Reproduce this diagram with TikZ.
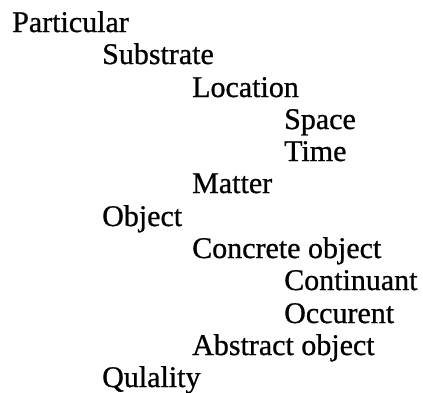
\documentclass[tikz,border=0pt]{standalone}
\usepackage{fontspec}
\setmainfont{Liberation Serif}
\newfontfamily\entryfont[FakeBold=0.8]{Liberation Serif}
\usepackage{tikz}
\usetikzlibrary{positioning}

\begin{document}
\begin{tikzpicture}[
    x=1pt, y=1pt,
    entry/.style={
        anchor=base west,
        inner sep=0pt,
        font=\entryfont\fontsize{30}{32}\selectfont
    }
]
    \useasboundingbox (0,0) rectangle (423,-392);

    \node[entry] (particular) at (12,-32) {Particular};
    \node[entry] (substrate) at (102,-64) {Substrate};
    \node[entry] (location) at (192,-97) {Location};
    \node[entry] (space) at (284,-129) {Space};
    \node[entry] (time) at (284,-161) {Time};
    \node[entry] (matter) at (192,-193) {Matter};
    \node[entry] (object) at (102,-226) {Object};
    \node[entry] (concrete) at (192,-258) {Concrete object};
    \node[entry] (continuant) at (284,-290) {Continuant};
    \node[entry] (occurent) at (284,-323) {Occurent};
    \node[entry] (abstract) at (192,-355) {Abstract object};
    \node[entry] (quality) at (102,-387) {Qulality};
\end{tikzpicture}
\end{document}
